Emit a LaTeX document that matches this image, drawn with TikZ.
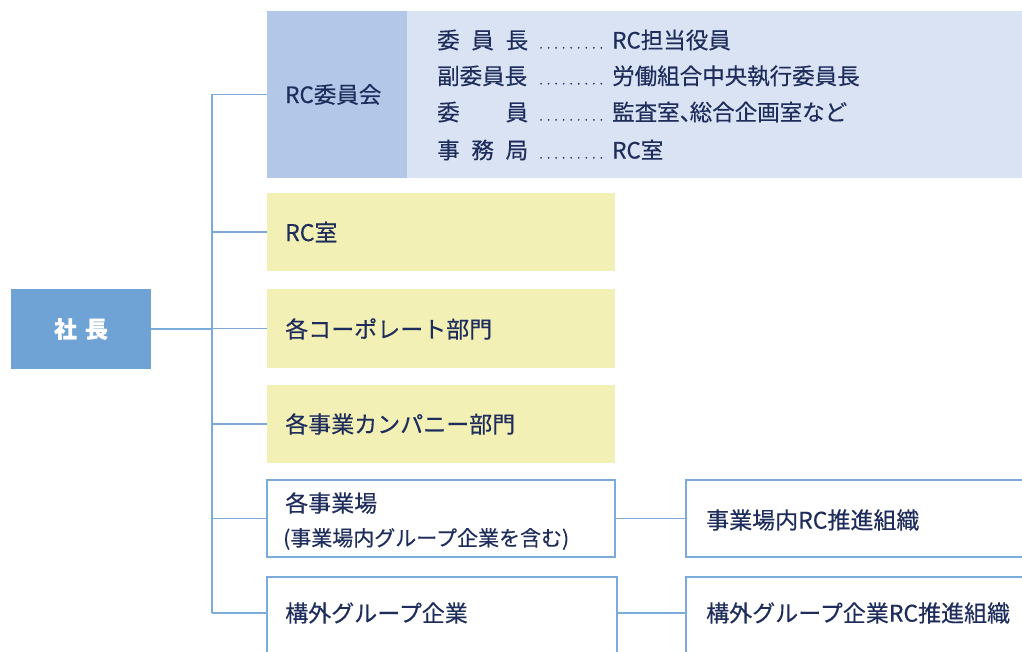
\documentclass[tikz,border=0pt]{standalone}
\usepackage{fontspec}
\setmainfont{Noto Sans CJK JP}[FakeBold=0.35]
\definecolor{txt}{HTML}{1F2D5C}
\definecolor{bossfill}{HTML}{6FA3D6}
\definecolor{linec}{HTML}{7BAADB}
\definecolor{rcdark}{HTML}{B3C8E8}
\definecolor{rclight}{HTML}{D9E3F3}
\definecolor{yel}{HTML}{F2F0B5}
\begin{document}
\begin{tikzpicture}[x=1pt,y=-1pt,
  base/.style={inner sep=0pt, outer sep=0pt, anchor=north west, text=txt},
  yelbox/.style={base, fill=yel, minimum width=348pt, minimum height=78pt},
  outbox/.style={base, draw=linec, line width=1.3pt, fill=white},
  conn/.style={draw=linec, line width=1.3pt},
  lbl/.style={anchor=west, text=txt, inner sep=0pt, font=\fontsize{23}{26}\selectfont},
  rcline/.style={anchor=west, text=txt, inner sep=0pt, font=\fontsize{22.5}{26}\selectfont}]
\useasboundingbox (0,0) rectangle (1022,652);
\clip (0,0) rectangle (1022,652);
\fill[white] (0,0) rectangle (1022,652);

% boss
\node[base, fill=bossfill, minimum width=140pt, minimum height=80pt] (boss) at (11,289) {};
\node[text=white, font=\bfseries\fontsize{23}{26}\selectfont, inner sep=0pt] (bosst) at (boss.center) {社\hspace{8pt}長};

% RC committee
\node[base, fill=rclight, minimum width=630pt, minimum height=167pt] (rcl) at (400,11) {};
\node[base, fill=rcdark, minimum width=140pt, minimum height=167pt] (rc) at (267,11) {};
\node[lbl, font=\fontsize{22.5}{26}\selectfont] (rct) at (285,94.5) {RC委員会};
\newcommand{\dlead}{\hspace{9pt}\makebox[68pt]{\fontsize{12}{12}\selectfont\xleaders\hbox to 7.4pt{\hss.\hss}\hfill}\hspace{7pt}}
\node[rcline] (r1) at (437,40) {\makebox[91pt][s]{委\hfill 員\hfill 長}\dlead RC担当役員};
\node[rcline] (r2) at (437,76) {\makebox[91pt][s]{副委員長}\dlead 労働組合中央執行委員長};
\node[rcline] (r3) at (437,112) {\makebox[91pt][s]{委\hfill 員}\dlead 監査室\makebox[10pt][l]{、}総合企画室など};
\node[rcline] (r4) at (437,150) {\makebox[91pt][s]{事\hfill 務\hfill 局}\dlead RC室};

% yellow boxes
\node[yelbox] (rcs) at (267,193) {};
\node[lbl] at (285,232) {RC室};
\node[yelbox, minimum height=79pt] (corp) at (267,289) {};
\node[lbl] at (285,329) {各コーポレート部門};
\node[yelbox] (comp) at (267,385) {};
\node[lbl] at (285,424) {各事業カンパニー部門};

% outlined boxes
\node[outbox, minimum width=348pt, minimum height=77pt] (site) at (267,480) {};
\node[lbl] at (285,503) {各事業場};
\node[lbl, font=\fontsize{21}{24}\selectfont] at (283,539) {(事業場内グループ企業を含む)};
\node[outbox, minimum width=350pt, minimum height=90pt] (grp) at (267,577) {};
\node[lbl] at (285,613) {構外グループ企業};
\node[outbox, minimum width=350pt, minimum height=77pt] (siterc) at (686,480) {};
\node[lbl] at (706,520) {事業場内RC推進組織};
\node[outbox, minimum width=350pt, minimum height=90pt] (grprc) at (686,577) {};
\node[lbl] at (706,613) {構外グループ企業RC推進組織};

% trunk and connectors
\coordinate (t1) at (212,94.5);
\coordinate (t6) at (212,613);
\draw[conn] (t1) -- (t6);
\draw[conn] (boss.east) -- (boss.east -| t1);
\draw[conn] (t1) -- (rc.west);
\draw[conn] (rcs.west -| t1) -- (rcs.west);
\draw[conn] (corp.west -| t1) -- (corp.west);
\draw[conn] (comp.west -| t1) -- (comp.west);
\draw[conn] (site.west -| t1) -- (site.west);
\draw[conn] (t6) -- (t6 -| grp.west);
\draw[conn] (site.east) -- (siterc.west);
\draw[conn] (t6 -| grp.east) -- (t6 -| grprc.west);
\end{tikzpicture}
\end{document}
